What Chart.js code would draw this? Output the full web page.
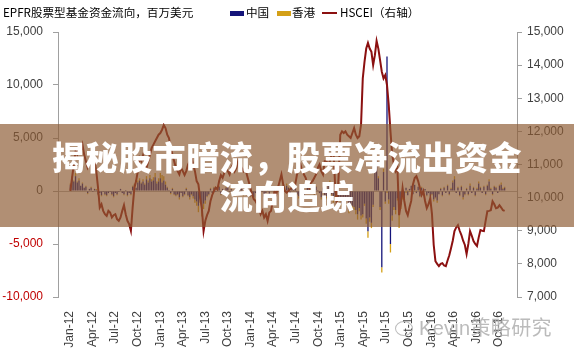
<!DOCTYPE html>
<html><head><meta charset="utf-8">
<script src="https://cdn.jsdelivr.net/npm/chart.js@4.4.1/dist/chart.umd.min.js"></script>
<style>
html,body{margin:0;padding:0;background:#fff;width:574px;height:353px;overflow:hidden;}
#wrap{position:relative;width:574px;height:353px;}
canvas{position:absolute;left:0;top:0;}
.t{position:absolute;font-family:"Noto Sans CJK SC","Liberation Sans",sans-serif;font-size:11.6px;color:#000;white-space:nowrap;line-height:12px;}
.sw{position:absolute;width:14px;height:5px;}
#banner{position:absolute;left:0;top:124px;width:574px;height:103px;background:rgba(140,90,50,0.68);
 display:flex;flex-direction:column;justify-content:center;align-items:center;
 font-family:"Noto Sans CJK SC",sans-serif;font-weight:900;font-size:33px;line-height:39px;color:#fff;letter-spacing:0.6px;}
#wm{position:absolute;left:395px;top:312px;font-family:"Liberation Sans","Noto Sans CJK SC",sans-serif;font-size:20px;color:rgba(175,175,175,0.85);white-space:nowrap;letter-spacing:0.3px;}
</style></head>
<body><div id="wrap">
<canvas id="c" width="574" height="353"></canvas>
<div class="t" style="left:3px;top:6px;">EPFR股票型基金资金流向，百万美元</div>
<div class="sw" style="left:230px;top:11px;background:#14147a;"></div>
<div class="t" style="left:246px;top:6px;">中国</div>
<div class="sw" style="left:277px;top:11px;background:#d4a017;"></div>
<div class="t" style="left:292px;top:6px;">香港</div>
<div class="sw" style="left:322px;top:12px;height:2px;width:15px;background:#8b1010;"></div>
<div class="t" style="left:340px;top:6px;">HSCEI（右轴）</div>
<div id="banner"><div>揭秘股市暗流，股票净流出资金</div><div>流向追踪</div></div>
<div id="wm"><span style="display:inline-block;width:16px;height:13px;border:1.5px solid rgba(175,175,175,0.85);border-radius:50%;vertical-align:-1px;margin-right:6px;"></span>Kevin策略研究</div>
</div>
<script>
// Quarter tick labels
const tickLabels = ['Jan-12','Apr-12','Jul-12','Oct-12','Jan-13','Apr-13','Jul-13','Oct-13','Jan-14','Apr-14','Jul-14','Oct-14','Jan-15','Apr-15','Jul-15','Oct-15','Jan-16','Apr-16','Jul-16','Oct-16'];

// HSCEI weekly (right axis)
const hscei2012 = [10200,10600,11000,11400,11300,11500,11400,11600,11300,11100,
 10900,11000,11200,11300,11100,10800,10300,9700,9800,9600,
 9500,9450,9600,9550,9400,9470,9500,9350,9300,9400,
 9600,9770,9500,9300,9200,9000,9700,10290,10500,10800,
 11200,11100,11280,11100,10890,11100,11300,11500,11600,11700,
 11800,11900];
const hscei2013 = [11950,12050,12190,12100,11900,11800,11500,11300,
 11100,10900,10800,10700,10900,10800,10680,10800,11000,11100,
 11200,11000,10800,10500,10400,10000,9680,8990,9300,9470,
 9600,9900,10080,10200,10300,10250,10500,10680,10600,10750,
 10890,10800,10700,10900,11000,10800,10900,11100,11000,10900,
 10800,10900,10700,10500];
const hscei2014 = [10300,10100,9950,9900,9800,9700,
 9500,9600,9400,9500,9300,9550,9600,9900,10200,10100,
 10300,10500,10700,10400,10200,10150,10200,10250,10300,10350,
 10400,10700,10900,11000,10800,10700,10600,10400,10300,10450,
 10500,10600,10700,10900,11000,10800,10700,11100,11100,11000,
 11100,11300,11500,10400,9800,10600];
const hscei2015 = [11900,12000,11950,12000,
 11900,11850,11800,11950,12100,11900,11800,11850,12200,13600,
 14100,14500,14670,14500,14400,14000,14300,14730,14500,14150,
 13800,13600,13700,13400,12800,12000,11300,11000,10800,10900,
 9470,9800,10290,9900,9600,9470,9700,9900,10400,10590,
 10650,10500,10300,10080,10200,9900,9680,9800];
const hscei2016 = [9980,9500,
 8570,8080,8000,7930,8000,8020,7950,7930,8100,8260,
 8470,8700,8990,9100,9170,9000,8870,8700,8570,8300,
 8600,8990,8850,8690,8600,8540,8800,9020,9000,8990,
 9300,9590,9600,9620,9890,9800,9680,9700,9770,9700,
 9620,9600];

// China weekly fund flows (US$ mn)
const china2012 = [600,1200,900,1400,800,1000,500,700,
 300,400,-200,200,300,-100,200,100,
 -300,-200,-400,-100,-300,-400,-200,-100,-300,-500,-200,-300,
 -100,200,-200,-300,100,-400,-200,-300,
 400,600,300,800,1000,700,900,600,1100,800,1200,900,1000,1300,700,900];
const china2013 = [1200,800,1000,600,300,100,-200,200,-300,
 -400,-300,-600,-200,-500,-300,200,-400,-600,-300,-500,-800,
 -1000,-1400,-800,-1600,-1200,-900,-500,-300,
 200,-200,300,-100,200,400,-300,200,-200,300,500,-100,200,-300,100,400,-200,300,200,-400,-200,100,-300];
const china2014 = [-500,-300,-600,-200,-400,-300,200,-100,-500,-200,300,-300,200,100,-200,300,
 400,-200,200,-300,100,500,300,-200,400,200,600,-300,-500,200,300,-400,-200,300,500,-100,
 200,-300,400,100,-200,-600,300,-400,-500,500,700,-300,-800,-500,300,-600];
const china2015 = [-800,-1200,-1500,-1000,-600,-1800,-1300,-1400,
 -1500,-1800,-2200,-1600,-2300,-2200,-1200,-2600,-3800,-2500,-3000,-1300,
 2400,2900,1200,-1500,-7200,1800,-1000,12700,-800,-5000,-2300,-1500,-1800,-700,-2000,-1300,
 -600,-800,300,-400,200,500,-300,600,-200,400,-500,300,-300,200,-400,-200];
const china2016 = [-500,-300,-800,-600,-900,-300,200,-400,300,-200,500,-300,200,
 800,1100,-200,300,-400,400,-600,-300,200,-300,500,-200,300,-400,200,
 700,300,-200,400,-300,500,900,200,-300,400,300,-200,500,600,200,300];

// Hong Kong weekly fund flows (US$ mn)
const hk2012 = [100,200,100,300,100,200,0,100,
 0,100,-100,0,100,0,0,100,
 -100,0,-100,0,-100,-100,0,0,-100,-100,0,-100,
 0,0,0,-100,0,-100,0,-100,
 100,100,0,200,200,100,200,100,300,200,300,200,300,400,200,300];
const hk2013 = [500,700,400,300,100,0,-100,100,-100,
 -100,-100,-200,0,-100,-100,100,-100,-200,-100,-200,-300,
 -400,-600,-300,-800,-500,-300,-100,-100,
 100,0,100,0,100,100,-100,0,0,100,100,0,100,-100,0,100,0,100,0,-100,0,0,-100];
const hk2014 = [-100,0,-200,0,-100,0,100,0,-100,0,100,-100,100,0,0,100,
 100,0,100,-100,0,200,100,0,200,100,300,-100,-200,100,100,-200,0,100,200,0,
 100,-100,100,0,0,-200,100,-100,-200,200,300,-100,-300,-200,100,-300];
const hk2015 = [-200,-300,-400,-200,-100,-300,-200,-300,
 -300,-400,-500,-300,-400,-300,-200,-500,-600,-400,-500,-200,
 400,300,200,-300,-500,300,-200,-200,-400,-800,-500,-300,-400,-200,-1500,-400,
 -200,-100,-200,100,-100,0,100,-100,100,0,-100,100,-100,0,-100,0];
const hk2016 = [-100,-100,-200,-100,-200,0,100,-100,100,0,100,-100,100,
 200,300,0,100,-100,100,-200,-100,100,-100,200,0,100,-100,100,
 200,100,0,100,-100,100,200,100,-100,100,100,0,100,200,100,100];

const hscei = [].concat(hscei2012,hscei2013,hscei2014,hscei2015,hscei2016);
const china = [].concat(china2012,china2013,china2014,china2015,china2016);
const hk = [].concat(hk2012,hk2013,hk2014,hk2015,hk2016);

const monthIdx = {Jan:0,Apr:3,Jul:6,Oct:9};
const start = new Date(2012,0,2).getTime();
const tickPos = tickLabels.map(s => {
  const d = new Date(2000 + parseInt(s.slice(4)), monthIdx[s.slice(0,3)], 1).getTime();
  return (d - start) / (7*864e5);
});
const toXY = a => a.map((v,i)=>({x:i,y:v}));
const FONT = {family:'"Liberation Sans", Arial, sans-serif', size:12};

new Chart(document.getElementById('c'), {
  type:'bar',
  data:{datasets:[
    {type:'line', label:'HSCEI（右轴）', data:toXY(hscei), yAxisID:'y1', borderColor:'#8b1010', borderWidth:2, pointRadius:0, tension:0, order:0},
    {label:'中国', data:toXY(china), backgroundColor:'#14147a', yAxisID:'y', order:1, barPercentage:0.75, categoryPercentage:1},
    {label:'香港', data:toXY(hk), backgroundColor:'#d4a017', yAxisID:'y', order:2, barPercentage:0.75, categoryPercentage:1}
  ]},
  options:{
    responsive:false, animation:false, devicePixelRatio:1,
    layout:{padding:{top:32,left:0,right:0,bottom:0}},
    plugins:{legend:{display:false}, tooltip:{enabled:false}},
    scales:{
      x:{type:'linear', min:-0.5, max:hscei.length-0.5, stacked:true,
        afterBuildTicks:s=>{s.ticks = tickPos.map(v=>({value:v}));},
        afterFit:s=>{s.height = 56;},
        grid:{display:false}, border:{display:false},
        ticks:{autoSkip:false, maxRotation:90, minRotation:90, padding:6, color:'#404040', font:FONT,
          callback:(v,i)=>tickLabels[i]}},
      y:{position:'left', min:-10000, max:15000, stacked:true,
        afterFit:s=>{s.width = 58;},
        ticks:{stepSize:5000, padding:10, font:FONT,
          color:c=>c.tick && c.tick.value<0 ? '#c00000' : '#404040',
          callback:v=>v.toLocaleString('en-US')},
        grid:{color:c=>c.tick && c.tick.value===0 ? '#b0b0b0' : 'rgba(0,0,0,0)', tickColor:'#a0a0a0', tickLength:5},
        border:{color:'#a0a0a0'}},
      y1:{position:'right', min:7000, max:15000,
        afterFit:s=>{s.width = 57;},
        ticks:{stepSize:1000, padding:5, font:FONT, color:'#404040', callback:v=>v.toLocaleString('en-US')},
        grid:{drawOnChartArea:false, tickColor:'#a0a0a0', tickLength:5},
        border:{color:'#a0a0a0'}}
    }
  }
});
</script>
</body></html>
